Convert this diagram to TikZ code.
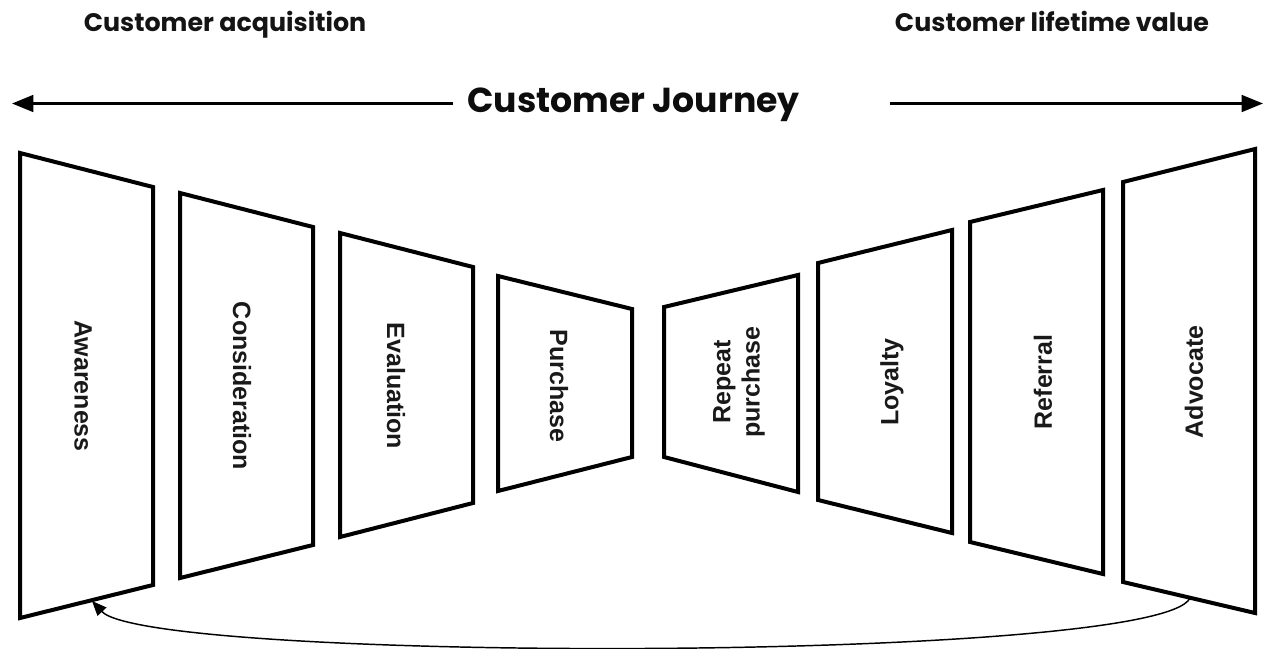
\documentclass[tikz,border=0pt]{standalone}
\usepackage{fontspec}
\setmainfont{Liberation Sans}
\newfontfamily\headfont{Poppins}
\usetikzlibrary{arrows.meta,calc}

% one trapezoidal stage panel: name, left x, right x, top-left y, bottom-left y, top-right y, bottom-right y
\newcommand\stagepanel[7]{%
  \coordinate (#1-tl) at (#2,#4);
  \coordinate (#1-bl) at (#2,#5);
  \coordinate (#1-tr) at (#3,#6);
  \coordinate (#1-br) at (#3,#7);
  \draw[panel] (#1-tl) -- (#1-tr) -- (#1-br) -- (#1-bl) -- cycle;
}

\begin{document}
\begin{tikzpicture}[x=0.75pt,y=-0.75pt,
  panel/.style={draw=black,line width=3pt,line join=miter},
  stagelbl/.style={font=\fontsize{18.75}{22}\selectfont\bfseries,align=center,inner sep=0pt,text=black!90},
  subhead/.style={font=\headfont\bfseries\fontsize{19}{22}\selectfont,anchor=base,inner sep=0pt,text=black!92},
  mainhead/.style={font=\headfont\bfseries\fontsize{26}{30}\selectfont,anchor=base,inner sep=0pt,text=black!95},
  journeyarrow/.style={line width=2pt,-{Triangle[length=16pt,width=12.5pt]}},
  loopback/.style={line width=1.1pt,-{Triangle[length=11pt,width=9pt]}}]
\useasboundingbox (0,0) rectangle (1266,649);

% headings
\node[subhead] (acq) at (225,32) {Customer acquisition};
\node[subhead] (clv) at (1052,32) {Customer lifetime value};
\node[mainhead] (journey) at (633.5,113) {Customer Journey};

% journey arrows
\coordinate (jl-start) at (453,103.5);
\coordinate (jl-end) at (12,103.5);
\coordinate (jr-start) at (890,103.5);
\coordinate (jr-end) at (1263,103.5);
\draw[journeyarrow] (jl-start) -- (jl-end);
\draw[journeyarrow] (jr-start) -- (jr-end);

% acquisition stages
\stagepanel{aw}{20}{153}{153}{618}{187}{585}
\stagepanel{co}{180}{313}{193}{578}{227}{545}
\stagepanel{ev}{340}{473}{233}{537}{267}{503}
\stagepanel{pu}{498}{632}{276}{491}{309}{457}
% lifetime value stages
\stagepanel{rp}{664}{798}{307}{457}{275}{492}
\stagepanel{lo}{818}{952}{263}{500}{230}{533}
\stagepanel{re}{970}{1103}{222}{542}{190}{574}
\stagepanel{ad}{1123}{1255}{182}{582}{149}{613}

% stage labels
\node[stagelbl,rotate=-90] (awareness) at (83,386) {Awareness};
\node[stagelbl,rotate=-90] (consideration) at (242,386) {Consideration};
\node[stagelbl,rotate=-90] (evaluation) at (396,386) {Evaluation};
\node[stagelbl,rotate=-90] (purchase) at (559,386) {Purchase};
\node[stagelbl,rotate=90] (repeat) at (739,382) {Repeat\\purchase};
\node[stagelbl,rotate=90] (loyalty) at (892,382) {Loyalty};
\node[stagelbl,rotate=90] (referral) at (1043,382) {Referral};
\node[stagelbl,rotate=90] (advocate) at (1194,382) {Advocate};

% loop from advocacy back to awareness
\coordinate (ad-foot) at (1190,598);
\coordinate (aw-foot) at (92,601);
\draw[loopback] (ad-foot) .. controls (1160,663) and (150,663) .. (aw-foot);
\end{tikzpicture}
\end{document}
